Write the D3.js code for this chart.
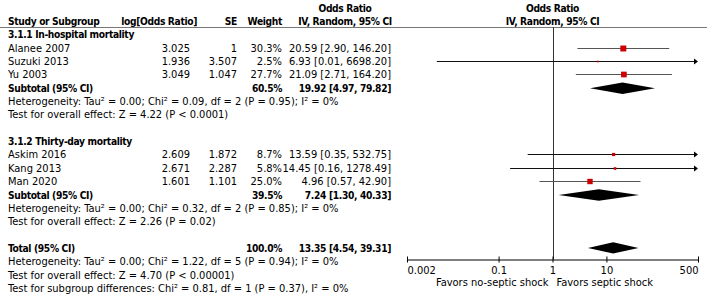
<!DOCTYPE html>
<html>
<head>
<meta charset="utf-8">
<script src="https://cdn.jsdelivr.net/npm/d3@7"></script>
<style>
  body { margin: 0; background: #fff; }
  svg { display: block; }
  text { font-family: "DejaVu Sans Condensed", "DejaVu Sans", sans-serif; font-size: 11px; fill: #000; }
  .bold { font-weight: bold; font-size: 10.2px; letter-spacing: -0.35px; }
</style>
</head>
<body>
<div id="chart"></div>
<script>
// study level data
const studies = ['Alanee 2007', 'Suzuki 2013', 'Yu 2003', 'Askim 2016', 'Kang 2013', 'Man 2020'];
const studyGroup = [0, 0, 0, 1, 1, 1];
const logOR = [3.025, 1.936, 3.049, 2.609, 2.671, 1.601];
const seText = ['1', '3.507', '1.047', '1.872', '2.287', '1.101'];
const se = [1, 3.507, 1.047, 1.872, 2.287, 1.101];
const weights = [30.3, 2.5, 27.7, 8.7, 5.8, 25.0];
const orValues = [20.59, 6.93, 21.09, 13.59, 14.45, 4.96];
const orLower = [2.90, 0.01, 2.71, 0.35, 0.16, 0.57];
const orUpper = [146.20, 6698.20, 164.20, 532.75, 1278.49, 42.90];

// subgroups
const groupTitles = ['3.1.1 In-hospital mortality', '3.1.2 Thirty-day mortality'];
const subWeights = [60.5, 39.5];
const subOR = [19.92, 7.24];
const subLower = [4.97, 1.30];
const subUpper = [79.82, 40.33];
const subHet = [
  'Heterogeneity: Tau² = 0.00; Chi² = 0.09, df = 2 (P = 0.95); I² = 0%',
  'Heterogeneity: Tau² = 0.00; Chi² = 0.32, df = 2 (P = 0.85); I² = 0%'
];
const subTest = [
  'Test for overall effect: Z = 4.22 (P < 0.0001)',
  'Test for overall effect: Z = 2.26 (P = 0.02)'
];

// overall
const totalWeight = 100.0;
const totalOR = 13.35;
const totalLower = 4.54;
const totalUpper = 39.31;
const totalNotes = [
  'Heterogeneity: Tau² = 0.00; Chi² = 1.22, df = 5 (P = 0.94); I² = 0%',
  'Test for overall effect: Z = 4.70 (P < 0.00001)',
  'Test for subgroup differences: Chi² = 0.81, df = 1 (P = 0.37), I² = 0%'
];

const tickValues = [0.002, 0.1, 1, 10, 500];
const axisDomain = [0.002, 500];
const favorsLeft = 'Favors no-septic shock';
const favorsRight = 'Favors septic shock';

const width = 709, height = 296;
const fmt2 = d3.format('.2f');
const pct = w => d3.format('.1f')(w) + '%';
const ciText = (m, lo, hi) => `${fmt2(m)} [${fmt2(lo)}, ${fmt2(hi)}]`;

// build row list
const rows = [];
[0, 1].forEach(g => {
  rows.push({type: 'title', label: groupTitles[g]});
  studies.forEach((s, i) => {
    if (studyGroup[i] === g) rows.push({type: 'study', i});
  });
  rows.push({type: 'subtotal', g});
  rows.push({type: 'note', label: subHet[g]});
  rows.push({type: 'note', label: subTest[g]});
  rows.push({type: 'blank'});
});
rows.push({type: 'total'});
totalNotes.forEach(t => rows.push({type: 'note', label: t}));

const y = d3.scaleLinear().domain([0, 1]).range([34.3, 34.3 + 13.35]);
const x = d3.scaleLog().domain(axisDomain).range([407, 698]);
const axisY = 259.5;

const col = {name: 8, logorHead: 197, logor: 190, se: 237, weight: 282, ci: 391, ciCenter: 345};

const svg = d3.select('#chart').append('svg')
  .attr('width', width)
  .attr('height', height);

svg.append('rect').attr('width', width).attr('height', height).attr('fill', '#fff');

// headers
const hdr = svg.append('g');
const head = (tx, ty, anchor, label) =>
  hdr.append('text').attr('class', 'bold').attr('x', tx).attr('y', ty).attr('text-anchor', anchor).text(label);
head(col.ciCenter, 12, 'middle', 'Odds Ratio');
head(x(1), 12, 'middle', 'Odds Ratio');
head(col.name, 25, 'start', 'Study or Subgroup');
head(col.logorHead, 25, 'end', 'log[Odds Ratio]');
head(col.se, 25, 'end', 'SE');
head(col.weight, 25, 'end', 'Weight');
head(col.ciCenter, 25, 'middle', 'IV, Random, 95% CI');
head(x(1), 25, 'middle', 'IV, Random, 95% CI');

svg.append('line')
  .attr('x1', 0).attr('x2', 707)
  .attr('y1', 27.5).attr('y2', 27.5)
  .attr('stroke', '#777').attr('stroke-width', 1);

// null line
svg.append('line')
  .attr('x1', Math.round(x(1)) + 0.5).attr('x2', Math.round(x(1)) + 0.5)
  .attr('y1', 27.5).attr('y2', axisY)
  .attr('stroke', '#333').attr('stroke-width', 1);

const table = svg.append('g');
const plot = svg.append('g');

const diamond = (m, lo, hi, cy) => {
  const h = 5.7;
  return `M${x(lo)},${cy}L${x(m)},${cy - h}L${x(hi)},${cy}L${x(m)},${cy + h}Z`;
};

rows.forEach((r, k) => {
  const cy = y(k);
  const ty = cy + 4;
  if (r.type === 'title') {
    table.append('text').attr('class', 'bold').attr('x', col.name).attr('y', ty).text(r.label);
  } else if (r.type === 'note') {
    table.append('text').attr('x', col.name).attr('y', ty).text(r.label);
  } else if (r.type === 'study') {
    const i = r.i;
    table.append('text').attr('x', col.name).attr('y', ty).text(studies[i]);
    table.append('text').attr('x', col.logor).attr('y', ty).attr('text-anchor', 'end').text(d3.format('.3f')(logOR[i]));
    table.append('text').attr('x', col.se).attr('y', ty).attr('text-anchor', 'end').text(seText[i]);
    table.append('text').attr('x', col.weight).attr('y', ty).attr('text-anchor', 'end').text(pct(weights[i]));
    table.append('text').attr('x', col.ci).attr('y', ty).attr('text-anchor', 'end').text(ciText(orValues[i], orLower[i], orUpper[i]));

    // CI line from log OR and SE, clipped to axis range
    const lo = Math.exp(logOR[i] - 1.96 * se[i]);
    const hi = Math.exp(logOR[i] + 1.96 * se[i]);
    const clipHi = hi > axisDomain[1];
    const x1 = x(Math.max(lo, axisDomain[0]));
    const x2 = x(Math.min(hi, axisDomain[1]));
    const ly = Math.round(cy) + 0.5;
    plot.append('line')
      .attr('x1', x1).attr('x2', clipHi ? x2 - 3 : x2)
      .attr('y1', ly).attr('y2', ly)
      .attr('stroke', clipHi ? '#111' : '#555').attr('stroke-width', 1);
    if (clipHi) {
      plot.append('path')
        .attr('d', `M${x2},${ly}L${x2 - 4},${ly - 3}L${x2 - 4},${ly + 3}Z`)
        .attr('fill', '#000');
    }
    const s = Math.sqrt(weights[i]) * 1.08;
    plot.append('rect')
      .attr('x', x(orValues[i]) - s / 2).attr('y', ly - s / 2)
      .attr('width', s).attr('height', s)
      .attr('fill', '#cc0000');
  } else if (r.type === 'subtotal') {
    const g = r.g;
    table.append('text').attr('class', 'bold').attr('x', col.name).attr('y', ty).text('Subtotal (95% CI)');
    table.append('text').attr('class', 'bold').attr('x', col.weight).attr('y', ty).attr('text-anchor', 'end').text(pct(subWeights[g]));
    table.append('text').attr('class', 'bold').attr('x', col.ci).attr('y', ty).attr('text-anchor', 'end').text(ciText(subOR[g], subLower[g], subUpper[g]));
    plot.append('path').attr('d', diamond(subOR[g], subLower[g], subUpper[g], cy + 0.5)).attr('fill', '#000');
  } else if (r.type === 'total') {
    table.append('text').attr('class', 'bold').attr('x', col.name).attr('y', ty).text('Total (95% CI)');
    table.append('text').attr('class', 'bold').attr('x', col.weight).attr('y', ty).attr('text-anchor', 'end').text(pct(totalWeight));
    table.append('text').attr('class', 'bold').attr('x', col.ci).attr('y', ty).attr('text-anchor', 'end').text(ciText(totalOR, totalLower, totalUpper));
    plot.append('path').attr('d', diamond(totalOR, totalLower, totalUpper, cy)).attr('fill', '#000');
  }
});

// axis
const axis = svg.append('g')
  .attr('transform', `translate(0,${axisY})`)
  .call(d3.axisBottom(x).tickValues(tickValues).tickSizeOuter(0).tickSizeInner(3).tickPadding(4)
    .tickFormat(d => String(d)));
axis.select('.domain').attr('stroke', '#000');
axis.selectAll('.tick line').attr('y1', -3).attr('y2', 3).attr('stroke', '#000');
axis.selectAll('.tick text')
  .style('font-family', '"DejaVu Sans Condensed", "DejaVu Sans", sans-serif')
  .style('font-size', '11px')
  .attr('fill', '#000')
  .attr('text-anchor', (d, i, n) => i === 0 ? 'start' : (i === n.length - 1 ? 'end' : 'middle'));

svg.append('text').attr('x', x(1) - 4).attr('y', 286).attr('text-anchor', 'end').text(favorsLeft);
svg.append('text').attr('x', x(1) + 4).attr('y', 286).attr('text-anchor', 'start').text(favorsRight);
</script>
</body>
</html>
